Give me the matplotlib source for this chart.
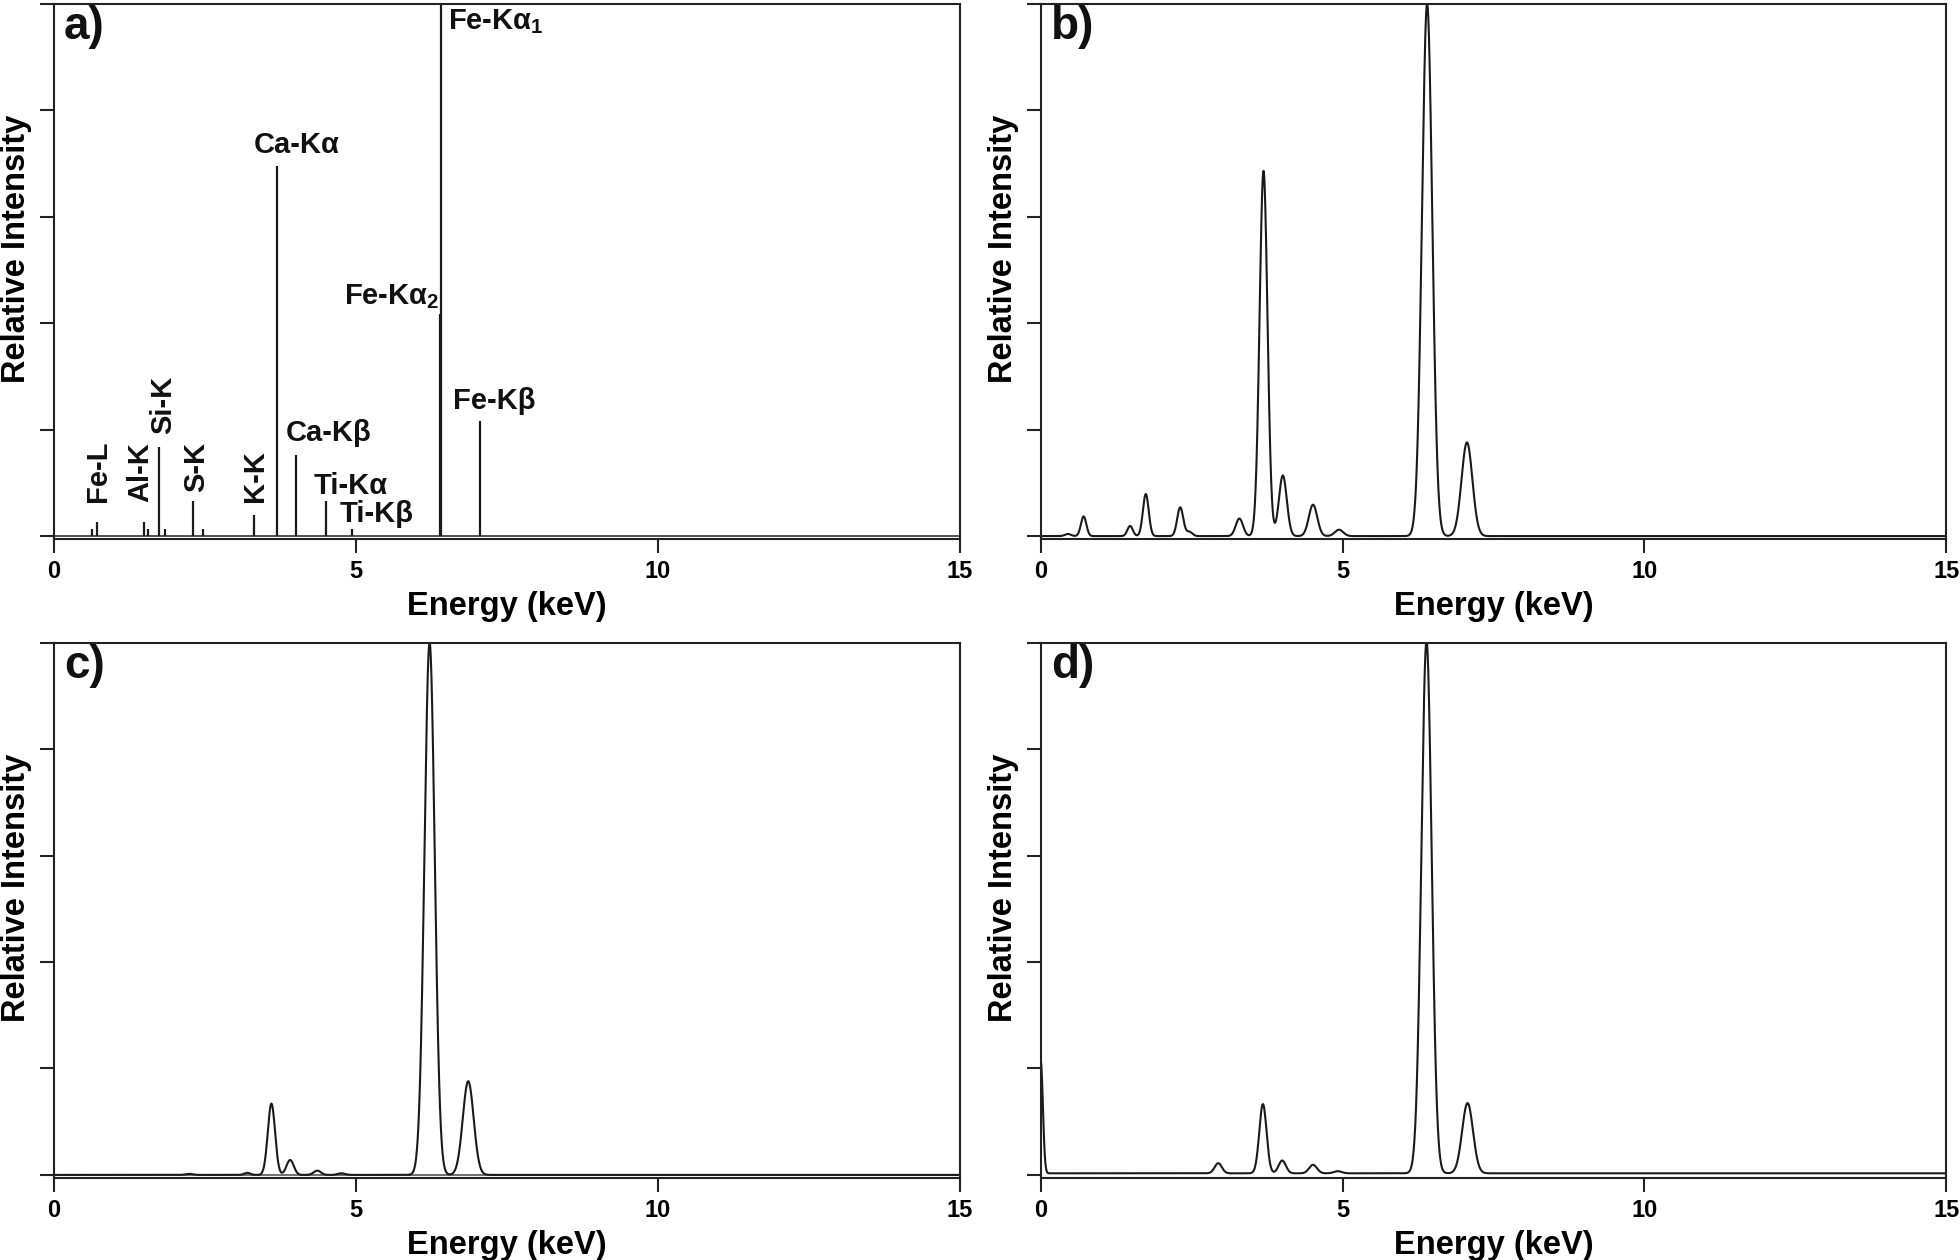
import numpy as np
import matplotlib
matplotlib.use("Agg")
import matplotlib.pyplot as plt

plt.rcParams['font.family'] = ['Liberation Sans', 'DejaVu Sans']
plt.rcParams['font.weight'] = 'bold'
plt.rcParams['mathtext.fontset'] = 'custom'
plt.rcParams['mathtext.rm'] = 'Liberation Sans:bold'
plt.rcParams['mathtext.it'] = 'Liberation Sans:bold'
plt.rcParams['mathtext.bf'] = 'Liberation Sans:bold'
plt.rcParams['mathtext.default'] = 'rm'

# ---------------- data ----------------
# panel a: stick (line) spectrum, energy in keV and relative intensity
a_energy = [0.63, 0.705, 1.487, 1.557, 1.740, 1.836, 2.307, 2.464, 3.314,
            3.692, 4.013, 4.511, 4.932, 6.391, 6.404, 7.058]
a_height = [0.014, 0.027, 0.027, 0.014, 0.167, 0.014, 0.066, 0.014, 0.039,
            0.696, 0.153, 0.066, 0.014, 0.417, 1.0, 0.217]

# panel a labels: text, x, y, rotation, ha, va
a_labels = ["Fe-L", "Al-K", "Si-K", "S-K", "K-K", "Ca-Kα", "Ca-Kβ",
            "Ti-Kα", "Ti-Kβ", "Fe-Kα$_2$", "Fe-Kα$_1$", "Fe-Kβ"]
a_label_x = [0.73, 1.43, 1.80, 2.35, 3.32, 3.31, 3.83, 4.30, 4.73, 6.39, 6.52, 6.60]
a_label_y = [0.064, 0.064, 0.192, 0.082, 0.064, 0.735, 0.193, 0.095, 0.041, 0.45, 0.967, 0.253]
a_label_rot = [90, 90, 90, 90, 90, 0, 0, 0, 0, 0, 0, 0]
a_label_ha = ["center"] * 5 + ["left"] * 4 + ["right", "left", "left"]
a_label_va = ["bottom"] * 5 + ["center"] * 7

# panel b: broadened spectrum peaks (centre keV, height, width keV)
b_center = [0.45, 0.71, 1.48, 1.74, 2.31, 2.46, 3.29, 3.69, 4.01, 4.51, 4.94, 6.40, 7.06]
b_height = [0.004, 0.037, 0.019, 0.079, 0.054, 0.008, 0.033, 0.686, 0.114, 0.059, 0.012, 1.0, 0.176]
b_width = [0.05, 0.045, 0.045, 0.048, 0.05, 0.05, 0.06, 0.065, 0.065, 0.07, 0.07, 0.085, 0.09]

# panel c
c_center = [2.24, 3.20, 3.60, 3.91, 4.36, 4.76, 6.22, 6.86]
c_height = [0.002, 0.004, 0.134, 0.028, 0.008, 0.003, 1.0, 0.176]
c_width = [0.06, 0.05, 0.06, 0.06, 0.06, 0.06, 0.085, 0.09]

# panel d
d_center = [0.0, 2.94, 3.68, 4.00, 4.51, 4.92, 6.39, 7.07]
d_height = [0.21, 0.019, 0.130, 0.024, 0.016, 0.004, 1.0, 0.132]
d_width = [0.035, 0.06, 0.06, 0.06, 0.065, 0.065, 0.085, 0.09]
d_background = 0.003

panel_tags = ["a)", "b)", "c)", "d)"]
x_ticks = [0, 5, 10, 15]
y_ticks = [0, 0.2, 0.4, 0.6, 0.8, 1.0]

# ---------------- helpers ----------------
E = np.linspace(0, 15, 6001)


def spectrum(centers, heights, widths, bg=0.0):
    y = np.full_like(E, bg)
    for c, h, w in zip(centers, heights, widths):
        y += h * np.exp(-0.5 * ((E - c) / w) ** 2)
    return y


LC = '#1a1a1a'

fig = plt.figure(figsize=(19.6, 12.6), dpi=100)
lefts = [0.0276, 0.531]
bottoms = [0.572, 0.065]
W, H = 0.462, 0.425
axes = []
for r in range(2):
    for c in range(2):
        axes.append(fig.add_axes([lefts[c], bottoms[r], W, H]))

ax = axes[0]
ax.axhline(0, color='#444', lw=1.3, zorder=1)
ax.vlines(a_energy, 0, a_height, color=LC, lw=1.6, zorder=2)
for t, x, y, rot, ha, va in zip(a_labels, a_label_x, a_label_y, a_label_rot,
                                a_label_ha, a_label_va):
    ax.text(x, y, t, rotation=rot, ha=ha, va=va, fontsize=21,
            fontweight='bold', color='#111')

axes[1].plot(E, spectrum(b_center, b_height, b_width), color=LC, lw=1.5)
axes[2].axhline(0, color='#555', lw=1.2, zorder=1)
axes[2].plot(E, spectrum(c_center, c_height, c_width), color=LC, lw=1.5)
axes[3].plot(E, spectrum(d_center, d_height, d_width, d_background), color=LC, lw=1.5)

for ax, tag in zip(axes, panel_tags):
    ax.set_xlim(0, 15)
    ax.set_ylim(-0.006, 1.0)
    ax.set_xticks(x_ticks)
    ax.set_yticks(y_ticks)
    ax.set_yticklabels([])
    ax.tick_params(axis='both', direction='out', length=10, width=1.5,
                   color='#222')
    ax.tick_params(axis='x', labelsize=17, pad=5)
    for lab in ax.get_xticklabels():
        lab.set_fontweight('bold')
    for s in ax.spines.values():
        s.set_linewidth(1.5)
        s.set_color('#222')
    ax.set_xlabel("Energy (keV)", fontsize=23.5, fontweight='bold', labelpad=6)
    ax.set_ylabel("Relative Intensity", fontsize=23.5, fontweight='bold',
                  va='center', ha='center')
    ax.yaxis.set_label_coords(-0.041, 0.542)
    ax.text(0.011, 0.997, tag, transform=ax.transAxes, ha='left', va='top',
            fontsize=33, fontweight='bold', color='#111')

fig.savefig("out.png", dpi=100)
